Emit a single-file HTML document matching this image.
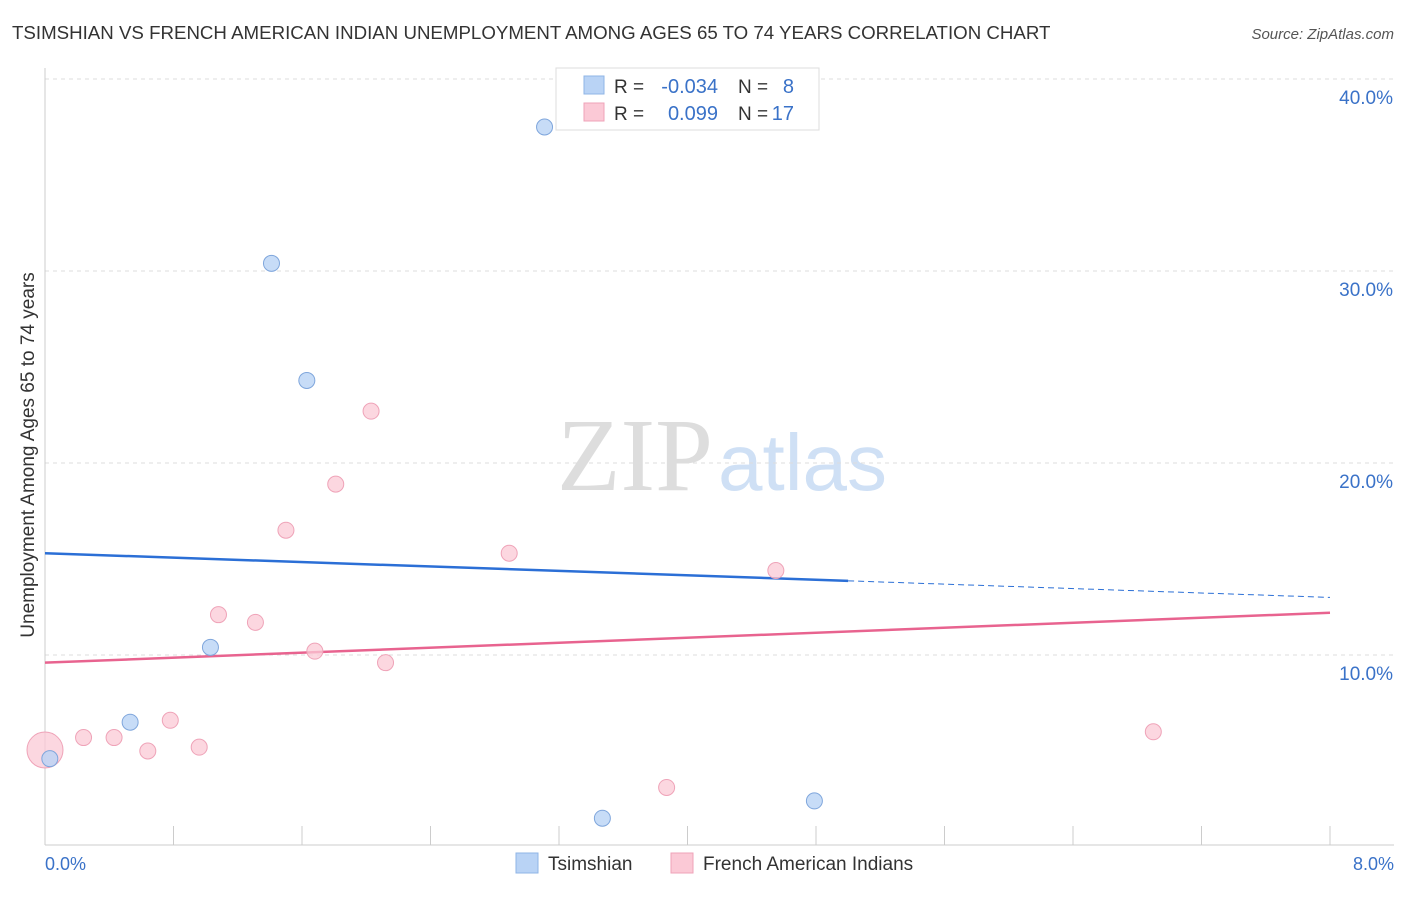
<!DOCTYPE html>
<html><head><meta charset="utf-8"><style>
body{margin:0;background:#fff;font-family:"Liberation Sans",sans-serif}
</style></head><body>
<svg width="1406" height="892" font-family="Liberation Sans, sans-serif">
<text x="12" y="39" font-size="18.7" fill="#333">TSIMSHIAN VS FRENCH AMERICAN INDIAN UNEMPLOYMENT AMONG AGES 65 TO 74 YEARS CORRELATION CHART</text>
<text x="1394" y="39" font-size="15" fill="#555" font-style="italic" text-anchor="end">Source: ZipAtlas.com</text>
<text x="713" y="490" font-size="104" fill="#ddd" text-anchor="end" font-family="Liberation Serif, serif">ZIP</text>
<text x="718" y="490" font-size="80" fill="#cfe0f5">atlas</text>
<g id="grid"></g>
<line x1="45" y1="68" x2="45" y2="845" stroke="#ccc"/>
<line x1="45" y1="845" x2="1394" y2="845" stroke="#ccc"/>
<text x="34" y="455" font-size="19" fill="#333" text-anchor="middle" transform="rotate(-90 34 455)">Unemployment Among Ages 65 to 74 years</text>
<text x="45" y="870" font-size="18" fill="#3a72c8">0.0%</text>
<text x="1394" y="870" font-size="18" fill="#3a72c8" text-anchor="end">8.0%</text>
<g id="marks"></g>
<g>
<rect x="556" y="68" width="263" height="62" fill="#fff" stroke="#ddd"/>
<rect x="584" y="76" width="20" height="18" fill="#b9d3f5" stroke="#8fb4e6"/>
<rect x="584" y="103" width="20" height="18" fill="#fbc9d6" stroke="#efa3b8"/>
<text x="614" y="93" font-size="19" fill="#333">R =</text>
<text x="718" y="93" font-size="20" fill="#3a72c8" text-anchor="end">-0.034</text>
<text x="738" y="93" font-size="19" fill="#333">N =</text>
<text x="794" y="93" font-size="20" fill="#3a72c8" text-anchor="end">8</text>
<text x="614" y="120" font-size="19" fill="#333">R =</text>
<text x="718" y="120" font-size="20" fill="#3a72c8" text-anchor="end">0.099</text>
<text x="738" y="120" font-size="19" fill="#333">N =</text>
<text x="794" y="120" font-size="20" fill="#3a72c8" text-anchor="end">17</text>
</g>
<g>
<rect x="516" y="853" width="22" height="20" fill="#b9d3f5" stroke="#8fb4e6"/>
<text x="548" y="870" font-size="19" fill="#333">Tsimshian</text>
<rect x="671" y="853" width="22" height="20" fill="#fbc9d6" stroke="#efa3b8"/>
<text x="703" y="870" font-size="19" fill="#333">French American Indians</text>
</g>
</svg>
<script>
const yTicks=[10,20,30,40];
const xTicks=[0,0.8,1.6,2.4,3.2,4.0,4.8,5.6,6.4,7.2,8.0];
const tsX=[0.03,0.53,1.03,1.41,1.63,3.11,3.47,4.79];
const tsY=[4.6,6.5,10.4,30.4,24.3,37.5,1.5,2.4];
const frX=[0,0.24,0.43,0.64,0.78,0.96,1.08,1.31,1.5,1.68,1.81,2.03,2.12,2.89,3.87,4.55,6.9];
const frY=[5.05,5.7,5.7,5.0,6.6,5.2,12.1,11.7,16.5,10.2,18.9,22.7,9.6,15.3,3.1,14.4,6.0];
const tsLine=[15.3,13.0];
const frLine=[9.6,12.2];
const sx=v=>45+v*(1285/8);
const sy=v=>847-v*19.2;
const NS='http://www.w3.org/2000/svg';
function mk(t,a,p){const e=document.createElementNS(NS,t);for(const k in a)e.setAttribute(k,a[k]);p.appendChild(e);return e;}
const g=document.getElementById('grid'),m=document.getElementById('marks');
yTicks.forEach(v=>{
const l=mk('line',{x1:45,x2:1394,y1:sy(v),y2:sy(v),stroke:'#ddd','stroke-dasharray':'4,4'},g);


const t=mk('text',{x:1393,y:sy(v)+25,'font-size':19,fill:'#3a72c8','text-anchor':'end'},g);
t.textContent=v.toFixed(1)+'%';


});
xTicks.forEach(v=>{
const l=mk('line',{x1:sx(v),x2:sx(v),y1:826,y2:845,stroke:'#ccc'},g);


});
function lineAt(t){return v=>t[0]+(t[1]-t[0])*v/8;}
const tl=lineAt(tsLine),fl=lineAt(frLine);
let e=mk('line',{x1:sx(0),y1:sy(tl(0)),x2:sx(5),y2:sy(tl(5)),stroke:'#2b6fd6','stroke-width':2.5},m);


e=mk('line',{x1:sx(5),y1:sy(tl(5)),x2:sx(8),y2:sy(tl(8)),stroke:'#2b6fd6','stroke-width':1,'stroke-dasharray':'6,4'},m);


e=mk('line',{x1:sx(0),y1:sy(fl(0)),x2:sx(8),y2:sy(fl(8)),stroke:'#e8638f','stroke-width':2.5},m);


frX.forEach((x,i)=>{
const c=mk('circle',{cx:sx(x),cy:sy(frY[i]),r:i==0?18:8,fill:'#fbc9d6','fill-opacity':0.75,stroke:'#efa3b8'},m);


});
tsX.forEach((x,i)=>{
const c=mk('circle',{cx:sx(x),cy:sy(tsY[i]),r:8,fill:'#b9d3f5','fill-opacity':0.8,stroke:'#7fa6dc'},m);


});
</script>
</body></html>
